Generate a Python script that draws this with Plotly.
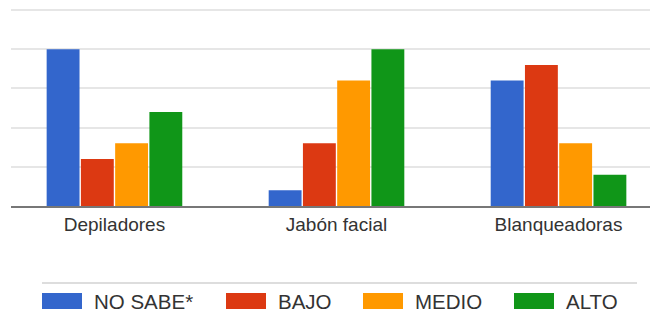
import plotly.graph_objects as go

categories = ["Depiladores", "Jabón facial", "Blanqueadoras"]
series_names = ["NO SABE*", "BAJO", "MEDIO", "ALTO"]
no_sabe = [10, 1, 8]
bajo = [3, 4, 9]
medio = [4, 8, 4]
alto = [6, 10, 2]
colors = ["#3366cc", "#dc3912", "#ff9900", "#109618"]

series_values = [no_sabe, bajo, medio, alto]

W, H = 650, 322
L, R, T, B = 11, 0, 8, 116
pw, ph = W - L - R, H - T - B
y_top = 12.5 * ph / 196.0

def px_x(x):
    return (x - L) / pw

def px_y(y):
    return (H - B - y) / ph

fig = go.Figure()
for name, vals, col in zip(series_names, series_values, colors):
    fig.add_trace(go.Bar(x=categories, y=vals, name=name, marker=dict(color=col, line=dict(width=0)),
                         showlegend=False))

# manual legend
legend_x = [42, 226, 363, 514]
shapes = []
annotations = []
for name, col, lx in zip(series_names, colors, legend_x):
    shapes.append(dict(type="rect", xref="paper", yref="paper",
                       x0=px_x(lx), x1=px_x(lx + 40), y0=px_y(309), y1=px_y(293),
                       fillcolor=col, line=dict(width=0)))
    annotations.append(dict(xref="paper", yref="paper", x=px_x(lx + 50), y=px_y(301),
                            xanchor="left", yanchor="middle", text=name, showarrow=False,
                            font=dict(family="Liberation Sans, Arial", size=20.5, color="#333333")))
shapes.append(dict(type="line", xref="paper", yref="paper", x0=px_x(42), x1=px_x(637),
                   y0=px_y(283), y1=px_y(283), line=dict(color="#dddddd", width=2)))

fig.update_layout(
    width=W, height=H,
    margin=dict(l=L, r=R, t=T, b=B),
    paper_bgcolor="white", plot_bgcolor="white",
    barmode="group", bargap=0.383, bargroupgap=0.04,
    font=dict(family="Liberation Sans, Arial", color="#333333"),
    shapes=shapes, annotations=annotations,
    xaxis=dict(range=[-0.466, 2.412], showline=True, linecolor="#777777", linewidth=2,
               ticks="", tickfont=dict(size=19, color="#333333"), showgrid=False),
    yaxis=dict(range=[0, y_top], tick0=0, dtick=2.5, showticklabels=False, gridcolor="#e6e6e6",
               gridwidth=1.5, zeroline=False, fixedrange=True),
)

fig.write_html("out.html")
